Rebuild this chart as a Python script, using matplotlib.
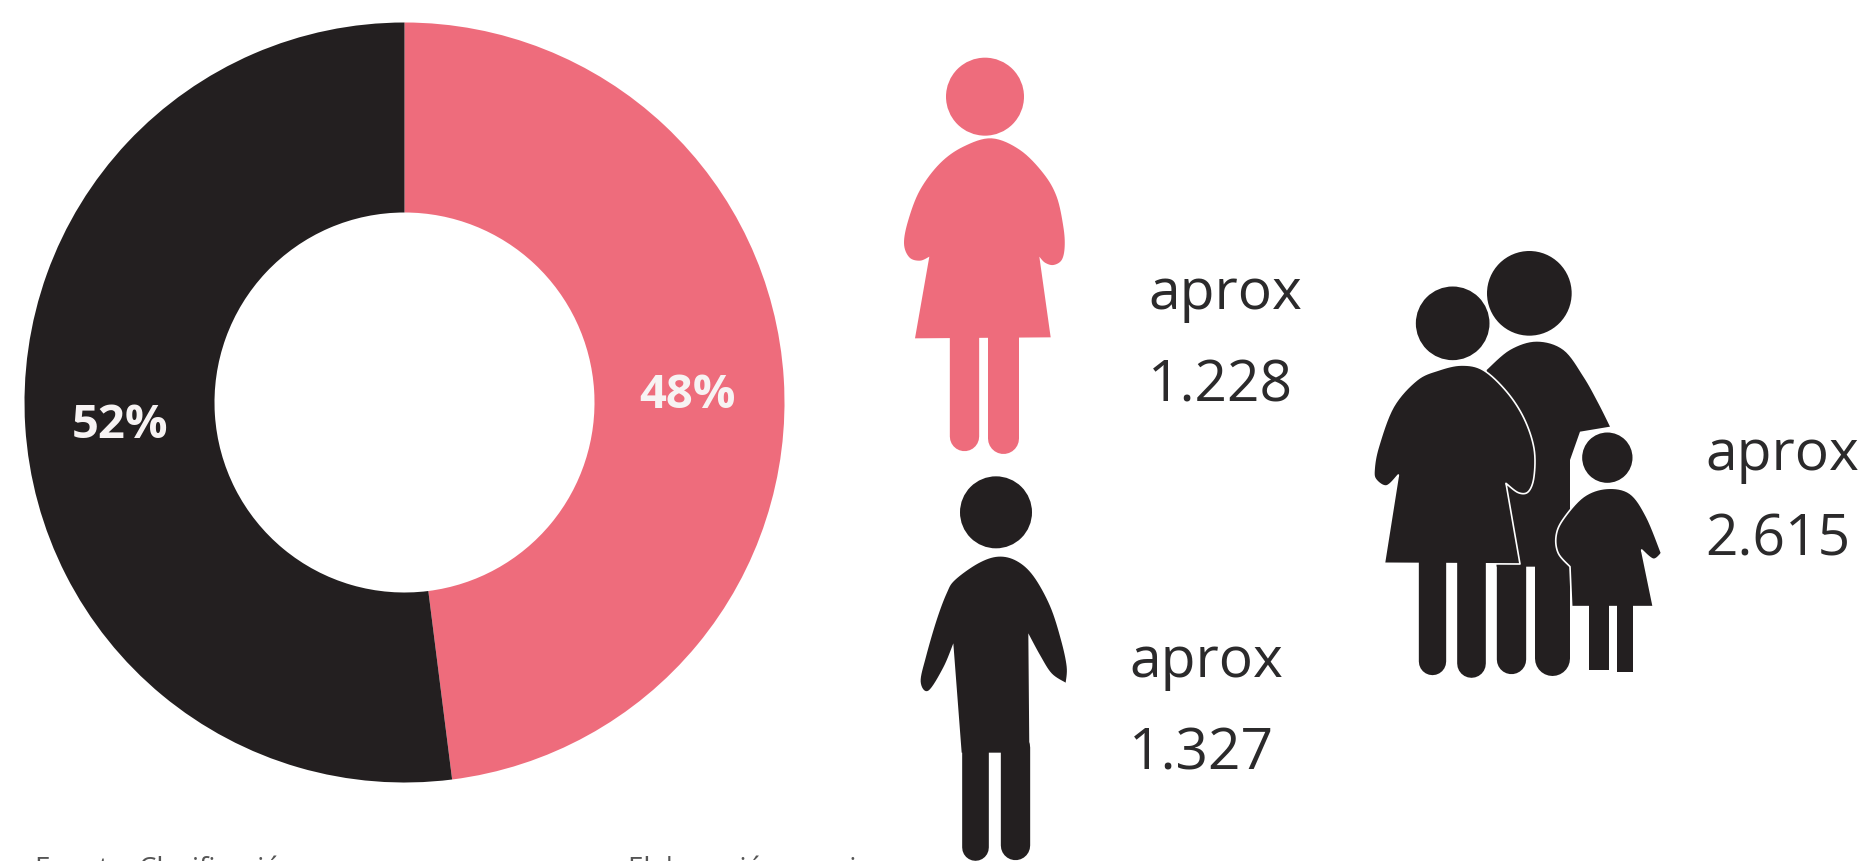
import numpy as np
import matplotlib.pyplot as plt
from matplotlib.patches import Circle, Polygon, Rectangle

PINK = "#EE6C7C"
BLACK = "#231F20"

shares = [48, 52]
share_colors = [PINK, BLACK]
share_label_pos = [(639, 408), (72, 438)]

counts = ["1.228", "1.327", "2.615"]
count_pos = [(1148, 309, 402), (1129, 677, 770), (1705, 470, 555)]

plt.rcParams["font.family"] = ["Open Sans", "DejaVu Sans"]


def outline(pts):
    # closed Catmull-Rom through the hand read points, (x, y, 1) marks a sharp corner
    expanded = []
    for p in pts:
        expanded += [p[:2]] * (3 if len(p) == 3 else 1)
    p = np.array(expanded, dtype=float)
    t = np.linspace(0, 1, 8, endpoint=False)[:, None]
    out = []
    for i in range(len(p)):
        p0, p1, p2, p3 = p[i - 1], p[i], p[(i + 1) % len(p)], p[(i + 2) % len(p)]
        if np.array_equal(p1, p2):
            continue
        out.append(0.5 * (2 * p1 + (p2 - p0) * t + (2 * p0 - 5 * p1 + 4 * p2 - p3) * t ** 2
                          + (3 * p1 - p0 - 3 * p2 + p3) * t ** 3))
    return np.vstack(out)


def shape(ax, pts, org, color, edge=None):
    xy = outline(pts) / 3 + np.array(org)
    ax.add_patch(Polygon(xy, closed=True, fc=color, ec=edge or "none", lw=1.2 if edge else 0,
                         joinstyle="round", zorder=1))


def head(ax, c, r, org, color, edge=None):
    ax.add_patch(Circle((c[0] / 3 + org[0], c[1] / 3 + org[1]), r / 3, fc=color,
                        ec=edge or "none", lw=1.2 if edge else 0, zorder=1))


def leg(ax, xc, top, bottom, w, org, color):
    # rounded foot: line with a round cap, width is given in zoom pixels
    lw = w / 3 * 0.72
    x = xc / 3 + org[0]
    ax.plot([x, x], [top / 3 + org[1], bottom / 3 + org[1] - w / 6], color=color, lw=lw,
            solid_capstyle="round", zorder=1)


fig = plt.figure(figsize=(18.73, 8.61), dpi=100, facecolor="white")

# donut
ax_pie = fig.add_axes([(404.5 - 380) / 1873, 1 - (402.5 + 380) / 861, 760 / 1873, 760 / 861])
ax_pie.pie(shares, colors=share_colors, startangle=90, counterclock=False,
           wedgeprops=dict(width=0.5, linewidth=0))
ax_pie.set_xlim(-1, 1)
ax_pie.set_ylim(-1, 1)

# everything else is placed in picture pixels
ax = fig.add_axes([0, 0, 1, 1])
ax.set_xlim(0, 1873)
ax.set_ylim(861, 0)
ax.axis("off")
ax.patch.set_alpha(0)

for v, (x, y) in zip(shares, share_label_pos):
    ax.text(x, y, f"{v}%", color="#F7F3F3", fontsize=34, fontweight="bold",
            ha="left", va="baseline")

for c, (x, y1, y2) in zip(counts, count_pos):
    ax.text(x, y1, "aprox", color="#2B2A2B", fontsize=41, ha="left", va="baseline")
    ax.text(x, y2, c, color="#2B2A2B", fontsize=41, ha="left", va="baseline")

# woman
org = (880, 30)
head(ax, (315, 200), 117, org, PINK)
shape(ax, [(335, 325), (420, 360), (490, 430), (530, 500), (550, 590), (554, 650), (545, 690),
           (520, 705), (495, 698), (478, 680, 1), (512, 922, 1), (105, 925, 1), (148, 680, 1),
           (120, 692), (88, 682), (72, 640), (85, 570), (120, 480), (180, 400), (250, 350)], org, PINK)
leg(ax, 251, 900, 1262, 88, org, PINK)
leg(ax, 368, 900, 1270, 93, org, PINK)

# man
org = (900, 460)
head(ax, (288, 157), 108, org, BLACK)
shape(ax, [(295, 290), (350, 303), (400, 348), (450, 438), (483, 540), (500, 620), (497, 668, 1),
           (455, 640), (420, 585), (385, 520, 1), (388, 878, 1), (185, 878, 1), (160, 550, 1),
           (130, 622), (85, 692), (62, 665), (78, 590), (110, 480), (140, 400), (165, 360),
           (235, 310)], org, BLACK)
leg(ax, 225, 860, 1200, 80, org, BLACK)
leg(ax, 344, 860, 1200, 88, org, BLACK)

# family
org = (1350, 230)
head(ax, (538, 190), 127, org, BLACK)
shape(ax, [(410, 420, 1), (480, 360), (560, 335), (640, 360), (700, 440), (745, 520), (780, 590, 1),
           (690, 605, 1), (660, 690, 1), (660, 1010, 1), (440, 1010, 1)], org, BLACK)
leg(ax, 482, 990, 1330, 88, org, BLACK)
leg(ax, 607, 990, 1335, 105, org, BLACK)

head(ax, (308, 280), 113, org, BLACK, edge="white")
shape(ax, [(335, 405), (400, 420), (470, 485), (522, 565), (552, 655), (552, 740), (535, 785),
           (505, 788), (468, 760, 1), (510, 1002, 1), (103, 1000, 1), (145, 735, 1), (110, 768),
           (78, 750), (72, 720), (85, 650), (130, 530), (200, 450), (265, 420)], org, BLACK, edge="white")
leg(ax, 245, 985, 1335, 82, org, BLACK)
leg(ax, 362, 985, 1342, 86, org, BLACK)

head(ax, (772, 683), 78, org, BLACK, edge="white")
shape(ax, [(770, 775), (840, 790), (890, 860), (935, 970, 1), (910, 988), (875, 960, 1),
           (910, 1130, 1), (665, 1130, 1), (660, 1010, 1), (625, 970), (618, 920), (638, 870),
           (700, 800)], org, BLACK, edge="white")
ax.add_patch(Rectangle((718 / 3 + org[0], 1120 / 3 + org[1]), 60 / 3, 200 / 3, fc=BLACK, lw=0, zorder=1))
ax.add_patch(Rectangle((800 / 3 + org[0], 1120 / 3 + org[1]), 50 / 3, 205 / 3, fc=BLACK, lw=0, zorder=1))

# source line, the picture cuts it off so only the top of the letters shows
ax.text(35, 877, "Fuente: Clasificación", color="#555555", fontsize=20, ha="left", va="baseline")
ax.text(628, 877, "Elaboración propia", color="#555555", fontsize=20, ha="left", va="baseline")

fig.savefig("out.png", dpi=100)
